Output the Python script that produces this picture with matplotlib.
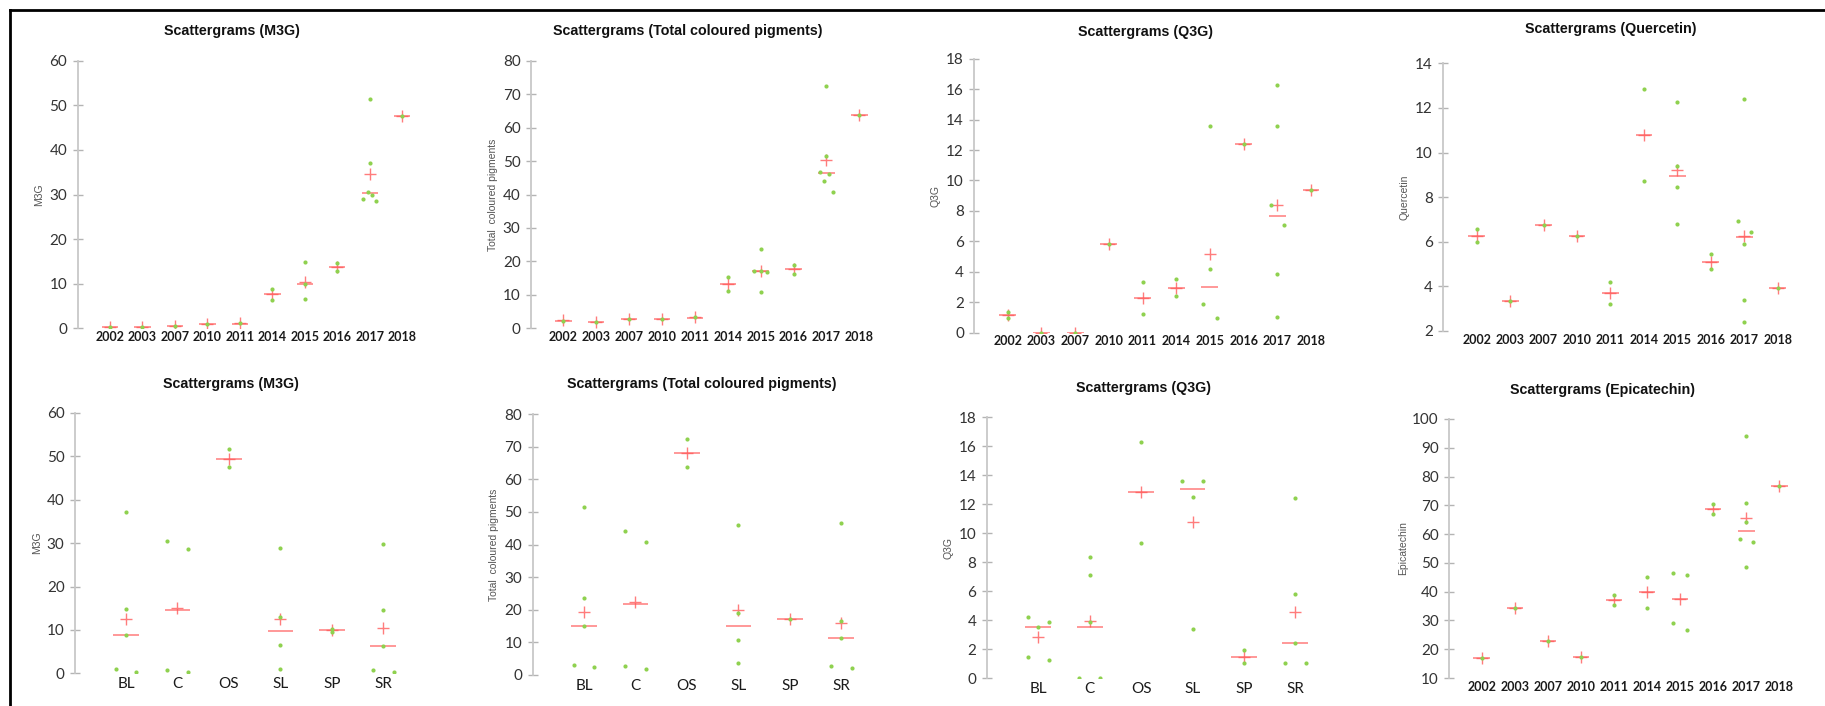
import matplotlib
matplotlib.use('Agg')
import matplotlib.pyplot as plt
from matplotlib.lines import Line2D

W, H = 1825, 706

years = ['2002', '2003', '2007', '2010', '2011', '2014', '2015', '2016', '2017', '2018']
sites = ['BL', 'C', 'OS', 'SL', 'SP', 'SR']

# --- top row: by year ---
m3g_year_pts = [[0.35], [0.25], [0.6], [0.9], [1.2], [8.7, 6.3], [14.8, 9.9, 6.6], [14.7, 12.8],
                [51.5, 37.0, 29.0, 30.5, 30.0, 28.6], [47.5]]
m3g_year_mean = [0.35, 0.3, 0.6, 0.9, 1.2, 7.6, 10.45, 13.7, 34.5, 47.5]
m3g_year_median = [0.3, 0.25, 0.6, 0.9, 1.05, 7.6, 9.95, 13.7, 30.25, 47.5]

tcp_year_pts = [[2.3], [1.8], [2.7], [2.7], [3.4], [15.2, 11.3], [23.8, 17.1, 17.0, 16.8, 10.9],
                [18.9, 16.2], [72.5, 51.4, 46.7, 43.9, 46.2, 40.6], [63.9]]
tcp_year_mean = [2.5, 1.9, 2.7, 2.7, 3.3, 13.1, 17.2, 17.6, 50.2, 63.9]
tcp_year_median = [2.3, 1.8, 2.7, 2.7, 3.2, 13.1, 17.0, 17.6, 46.5, 63.9]

q3g_year_pts = [[1.38, 0.94], [0.0], [0.0], [5.8], [3.3, 1.2], [3.5, 2.4], [13.6, 4.16, 1.88, 0.99],
                [12.4], [16.3, 13.6, 8.4, 7.07, 3.83, 1.05], [9.35]]
q3g_year_mean = [1.16, 0.0, 0.0, 5.8, 2.27, 2.93, 5.16, 12.4, 8.39, 9.35]
q3g_year_median = [1.16, 0.0, 0.0, 5.8, 2.27, 2.93, 3.02, 12.4, 7.69, 9.35]

querc_year_pts = [[6.56, 5.98], [3.36], [6.75], [6.26], [4.18, 3.21], [12.85, 8.73],
                  [12.25, 9.41, 8.47, 6.80], [5.45, 4.77], [12.39, 6.93, 5.92, 6.42, 3.41, 2.42], [3.94]]
querc_year_mean = [6.26, 3.36, 6.75, 6.26, 3.70, 10.79, 9.22, 5.11, 6.27, 3.94]
querc_year_median = [6.26, 3.36, 6.75, 6.26, 3.70, 10.79, 8.97, 5.11, 6.20, 3.94]

# --- bottom row: by site (last panel by year) ---
m3g_site_pts = [[37.1, 14.9, 8.75, 1.07, 0.31], [30.57, 28.65, 0.69, 0.31], [51.6, 47.5],
                [28.96, 13.0, 6.6, 1.0], [10.2, 9.5], [29.9, 14.6, 6.3, 0.69, 0.38]]
m3g_site_mean = [12.44, 15.05, 49.5, 12.44, 10.06, 10.37]
m3g_site_median = [8.75, 14.67, 49.5, 9.83, 9.98, 6.3]

tcp_site_pts = [[51.5, 23.66, 15.06, 2.97, 2.36], [44.05, 40.67, 2.56, 1.84], [72.4, 63.7],
                [46.1, 18.95, 10.76, 3.48], [17.0], [46.7, 16.4, 11.27, 2.56, 2.15]]
tcp_site_mean = [19.15, 22.43, 68.1, 19.97, 17.0, 15.88]
tcp_site_median = [15.06, 21.6, 68.1, 15.06, 17.0, 11.27]

q3g_site_pts = [[4.21, 3.55, 3.84, 1.43, 1.24], [8.38, 7.09, 3.84, 0.0, 0.0], [16.27, 9.35],
                [13.63, 13.63, 12.48, 3.38], [1.91, 1.06], [12.43, 5.82, 2.39, 1.06, 1.01]]
q3g_site_mean = [2.83, 3.91, 12.82, 10.77, 1.47, 4.53]
q3g_site_median = [3.55, 3.55, 12.82, 13.05, 1.47, 2.39]

epi_year_pts = [[16.95], [34.3], [22.74], [17.18], [38.73, 35.48], [45.2, 34.3], [46.6, 45.7, 29.2, 26.8],
                [70.58, 66.87], [93.98, 70.7, 64.2, 58.3, 57.1, 48.46], [76.6]]
epi_year_mean = [16.95, 34.3, 22.74, 17.18, 37.2, 39.9, 37.45, 68.84, 65.5, 76.6]
epi_year_median = [16.95, 34.3, 22.74, 17.18, 37.2, 39.9, 37.45, 68.84, 61.1, 76.6]

GREEN = '#8fd14f'
RED = '#ff5b5b'


def spread(vals, thr, min_n=4, d=0.2):
    # side-by-side placement for points that sit close together
    offs = [0.0] * len(vals)
    if len(vals) < min_n:
        return offs
    order = sorted(range(len(vals)), key=lambda i: -vals[i])
    clusters, cur = [], [order[0]]
    for a, b in zip(order, order[1:]):
        if vals[a] - vals[b] <= thr:
            cur.append(b)
        else:
            clusters.append(cur)
            cur = [b]
    clusters.append(cur)
    for c in clusters:
        if len(c) > 1:
            c = sorted(c)
            for k, i in enumerate(c):
                offs[i] = -d + 2 * d * k / (len(c) - 1)
    return offs


# layout in pixels: axis x, y of top tick, y of bottom tick, first & last category x,
# title centre, y-label x
panels = [
    dict(cats=years, pts=m3g_year_pts, mean=m3g_year_mean, med=m3g_year_median, thr=1.5,
         ylim=(0, 60), step=10, ylabel='M3G', title='Scattergrams (M3G)',
         ax_x=77.7, y_top=60.7, y_bot=328.3, c0=110, cn=402.3, tx=232, ty=30.7, lx=39.3, bold=True),
    dict(cats=years, pts=tcp_year_pts, mean=tcp_year_mean, med=tcp_year_median, thr=3.5,
         ylim=(0, 80), step=10, ylabel='Total  coloured pigments', title='Scattergrams (Total coloured pigments)',
         ax_x=531, y_top=60.7, y_bot=328.3, c0=563.3, cn=859.3, tx=687.5, ty=30.7, lx=492.7, bold=True),
    dict(cats=years, pts=q3g_year_pts, mean=q3g_year_mean, med=q3g_year_median, thr=1.5,
         ylim=(0, 18), step=2, ylabel='Q3G', title='Scattergrams (Q3G)',
         ax_x=974.3, y_top=58.7, y_bot=332.7, c0=1007.7, cn=1311, tx=1145, ty=31.7, lx=936, bold=True),
    dict(cats=years, pts=querc_year_pts, mean=querc_year_mean, med=querc_year_median, thr=0.7,
         ylim=(2, 14), step=2, ylabel='Quercetin', title='Scattergrams (Quercetin)',
         ax_x=1443.3, y_top=63.3, y_bot=331, c0=1476.7, cn=1777.7, tx=1611, ty=29.3, lx=1405, bold=True),
    dict(cats=sites, pts=m3g_site_pts, mean=m3g_site_mean, med=m3g_site_median, thr=2.5,
         ylim=(0, 60), step=10, ylabel='M3G', title='Scattergrams (M3G)',
         ax_x=75, y_top=413, y_bot=673.3, c0=126, cn=383.3, tx=231, ty=383.7, lx=37.3, bold=False),
    dict(cats=sites, pts=tcp_site_pts, mean=tcp_site_mean, med=tcp_site_median, thr=4.0,
         ylim=(0, 80), step=10, ylabel='Total  coloured pigments', title='Scattergrams (Total coloured pigments)',
         ax_x=532.7, y_top=414.3, y_bot=674.7, c0=584, cn=841.3, tx=701.3, ty=383.7, lx=494.3, bold=False),
    dict(cats=sites, pts=q3g_site_pts, mean=q3g_site_mean, med=q3g_site_median, thr=1.0,
         ylim=(0, 18), step=2, ylabel='Q3G', title='Scattergrams (Q3G)',
         ax_x=986.7, y_top=417.3, y_bot=678, c0=1038.3, cn=1295.3, tx=1143, ty=388, lx=948.3, bold=False),
    dict(cats=years, pts=epi_year_pts, mean=epi_year_mean, med=epi_year_median, thr=3.0,
         ylim=(10, 100), step=10, ylabel='Epicatechin', title='Scattergrams (Epicatechin)',
         ax_x=1449.3, y_top=419, y_bot=678, c0=1481.7, cn=1779.3, tx=1602.8, ty=389.7, lx=1403.3, bold=True),
]

fig = plt.figure(figsize=(W / 100, H / 100), dpi=100)

for p in panels:
    n = len(p['cats'])
    sp = (p['cn'] - p['c0']) / (n - 1)
    right = p['cn'] + (p['c0'] - p['ax_x'])
    ax = fig.add_axes([p['ax_x'] / W, 1 - p['y_bot'] / H,
                       (right - p['ax_x']) / W, (p['y_bot'] - p['y_top']) / H])
    ax.set_xlim((p['ax_x'] - p['c0']) / sp, n - 1 + (p['c0'] - p['ax_x']) / sp)
    ax.set_ylim(*p['ylim'])
    ax.patch.set_alpha(0)

    for i, vals in enumerate(p['pts']):
        ax.hlines(p['med'][i], i - 0.25, i + 0.25, color=RED, lw=1.1, alpha=0.8, zorder=2)
        ax.plot(i, p['mean'][i], marker='+', ms=8, mew=1.0, color=RED, alpha=0.8, zorder=3)
        offs = spread(vals, p['thr'])
        ax.plot([i + o for o in offs], vals, 'o', ms=3.0, color=GREEN, mec='none', zorder=4)

    lo, hi = p['ylim']
    ax.set_yticks(range(lo, hi + 1, p['step']))
    ax.set_xticks(range(n))
    ax.set_xticklabels(p['cats'], fontfamily='Lato',
                       fontsize=9 if p['bold'] else 11,
                       fontweight='bold' if p['bold'] else 'normal', color='#1a1a1a')
    for s in ['top', 'right', 'bottom']:
        ax.spines[s].set_visible(False)
    ax.spines['left'].set_color('#c8c8c8')
    ax.spines['left'].set_linewidth(1.3)
    ax.tick_params(axis='x', length=0, pad=2 if p['bold'] else 3)
    ax.tick_params(axis='y', direction='inout', length=7, width=1, color='#b4b4b4',
                   labelsize=11, labelcolor='#333333', pad=4)
    for t in ax.get_yticklabels():
        t.set_fontfamily('Lato')

    fig.text(p['tx'] / W, 1 - p['ty'] / H, p['title'], ha='center', va='center',
             fontsize=10.3, fontweight='bold', fontfamily='Liberation Sans', color='#111111')
    fig.text(p['lx'] / W, 1 - ((p['y_top'] + p['y_bot']) / 2) / H, p['ylabel'], rotation=90,
             ha='center', va='center', fontsize=7.5, fontfamily='Liberation Sans', color='#555555')

# black frame on the left and top
fig.add_artist(Line2D([10 / W, 10 / W], [0, 1 - 10 / H], transform=fig.transFigure, color='black', lw=2))
fig.add_artist(Line2D([10 / W, 1], [1 - 10 / H, 1 - 10 / H], transform=fig.transFigure, color='black', lw=2))

fig.savefig('out.png', dpi=100, facecolor='white')
